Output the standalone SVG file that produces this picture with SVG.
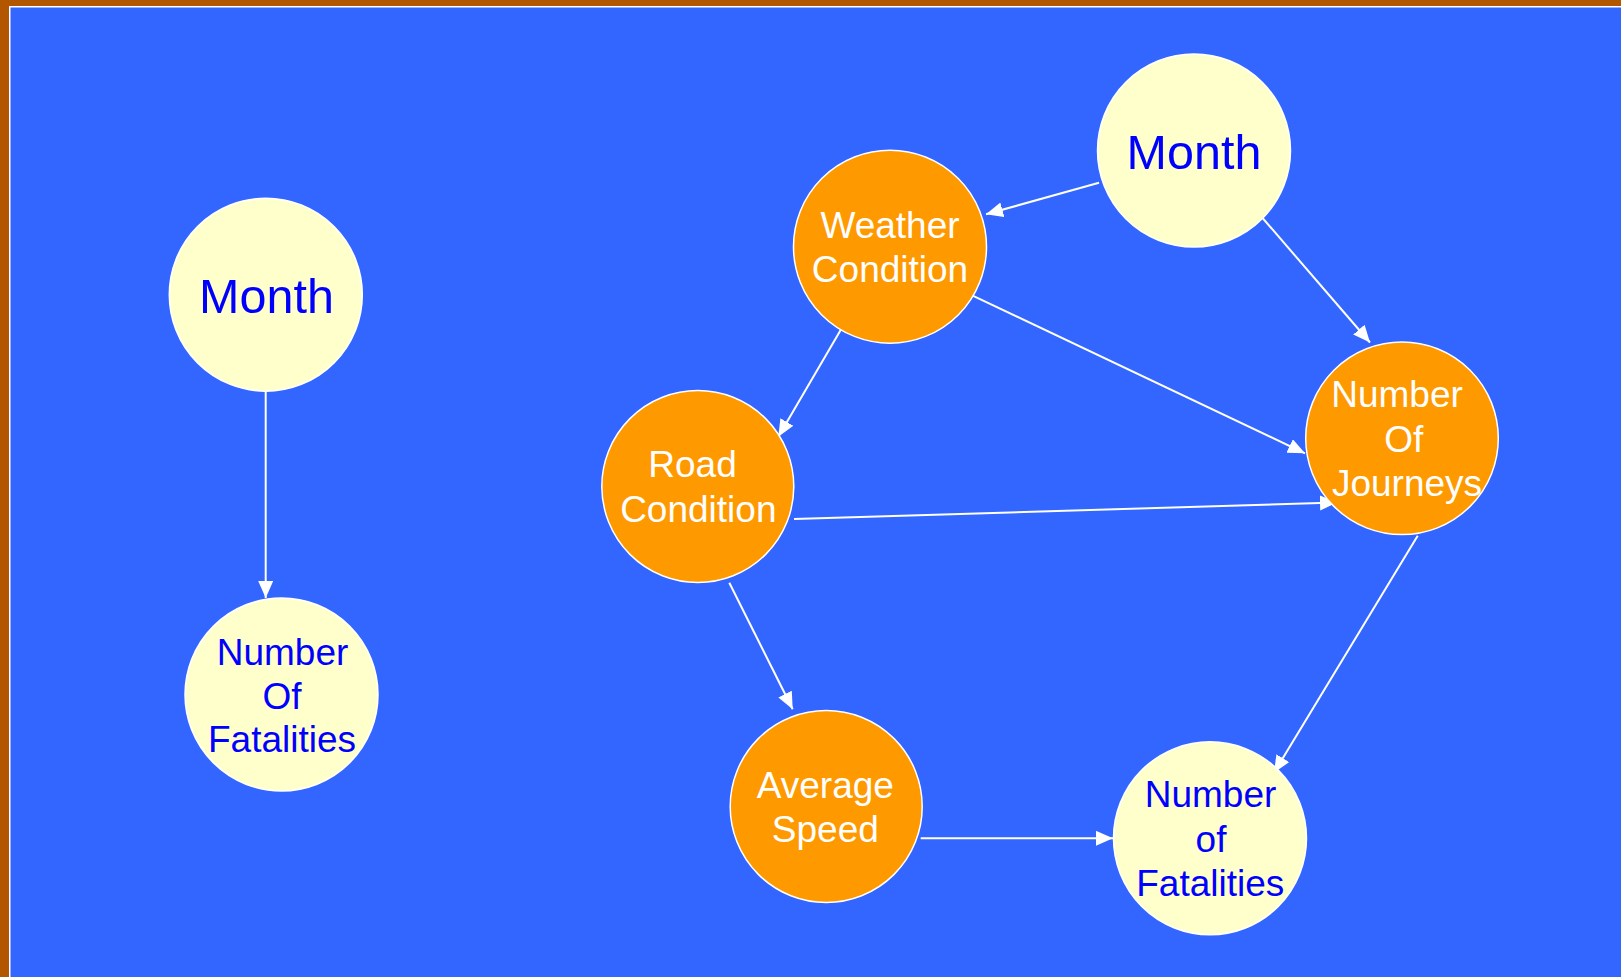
<svg xmlns="http://www.w3.org/2000/svg" width="1621" height="977" viewBox="0 0 1621 977">
  <style>
    .cream { fill: #FFFFCC; stroke: #FFFFFF; stroke-width: 1.5; }
    .amber { fill: #FF9900; stroke: #FFFFFF; stroke-width: 1.5; }
    .dark { fill: #0000FF; font-family: "Liberation Sans", Arial, sans-serif; text-anchor: middle; }
    .light { fill: #FFFFFF; font-family: "Liberation Sans", Arial, sans-serif; text-anchor: middle; }
    .big { font-size: 48.5px; }
    .small { font-size: 37px; }
    .edge { stroke: #FFFFFF; stroke-width: 2; fill: none; marker-end: url(#arrow); }
  </style>
  <defs>
    <marker id="arrow" markerUnits="userSpaceOnUse" markerWidth="18" markerHeight="16" refX="17" refY="7.5" orient="auto">
      <path d="M0,0 L17,7.5 L0,15 Z" fill="#FFFFFF"/>
    </marker>
  </defs>

  <!-- backdrop frame and panel -->
  <rect x="0" y="0" width="1621" height="977" fill="#B35600"/>
  <rect x="9" y="6" width="1612" height="971" fill="#FFFFFF"/>
  <rect x="10.5" y="7.5" width="1610.5" height="969.5" fill="#3366FF"/>

  <!-- connectors -->
  <g id="connectors">
    <line class="edge" x1="265.7" y1="392" x2="265.7" y2="598"/>
    <line class="edge" x1="1099" y1="182.7" x2="986" y2="214.3"/>
    <line class="edge" x1="1260" y1="215" x2="1370" y2="342.5"/>
    <line class="edge" x1="841.7" y1="328.3" x2="778.3" y2="436.7"/>
    <line class="edge" x1="970" y1="294.3" x2="1305" y2="453.3"/>
    <line class="edge" x1="794" y1="519" x2="1337" y2="502.5"/>
    <line class="edge" x1="729.3" y1="582.7" x2="792.7" y2="709.3"/>
    <line class="edge" x1="1417.7" y1="535.7" x2="1274" y2="772.7"/>
    <line class="edge" x1="920.7" y1="838.3" x2="1113" y2="838.3"/>
  </g>

  <!-- left graph -->
  <g id="month-left">
    <circle class="cream" cx="265.8" cy="294.7" r="96.5"/>
    <text class="dark big" x="266.5" y="313.3">Month</text>
  </g>
  <g id="fatalities-left">
    <circle class="cream" cx="281.5" cy="694.5" r="96.5"/>
    <text class="dark small" x="282.5" y="664.5">Number</text>
    <text class="dark small" x="282" y="708.5">Of</text>
    <text class="dark small" x="282" y="752.3">Fatalities</text>
  </g>

  <!-- right graph -->
  <g id="month-right">
    <circle class="cream" cx="1194" cy="150.5" r="96.5"/>
    <text class="dark big" x="1194" y="169">Month</text>
  </g>
  <g id="weather">
    <circle class="amber" cx="890" cy="246.7" r="96.5"/>
    <text class="light small" x="890" y="238.3">Weather</text>
    <text class="light small" x="890" y="281.7">Condition</text>
  </g>
  <g id="journeys">
    <circle class="amber" cx="1402" cy="438.3" r="96.3"/>
    <text class="light small" x="1397" y="407.3">Number</text>
    <text class="light small" x="1403.7" y="451.7">Of</text>
    <text class="light small" x="1407" y="495.7">Journeys</text>
  </g>
  <g id="road">
    <circle class="amber" cx="697.8" cy="486.5" r="96"/>
    <text class="light small" x="692.5" y="477.3">Road</text>
    <text class="light small" x="698.3" y="522.3">Condition</text>
  </g>
  <g id="speed">
    <circle class="amber" cx="826.2" cy="806.5" r="96"/>
    <text class="light small" x="825.3" y="798.3">Average</text>
    <text class="light small" x="825.3" y="841.7">Speed</text>
  </g>
  <g id="fatalities-right">
    <circle class="cream" cx="1210" cy="838.3" r="96.5"/>
    <text class="dark small" x="1210.5" y="807.3">Number</text>
    <text class="dark small" x="1211" y="851.7">of</text>
    <text class="dark small" x="1210.3" y="895.7">Fatalities</text>
  </g>
</svg>
